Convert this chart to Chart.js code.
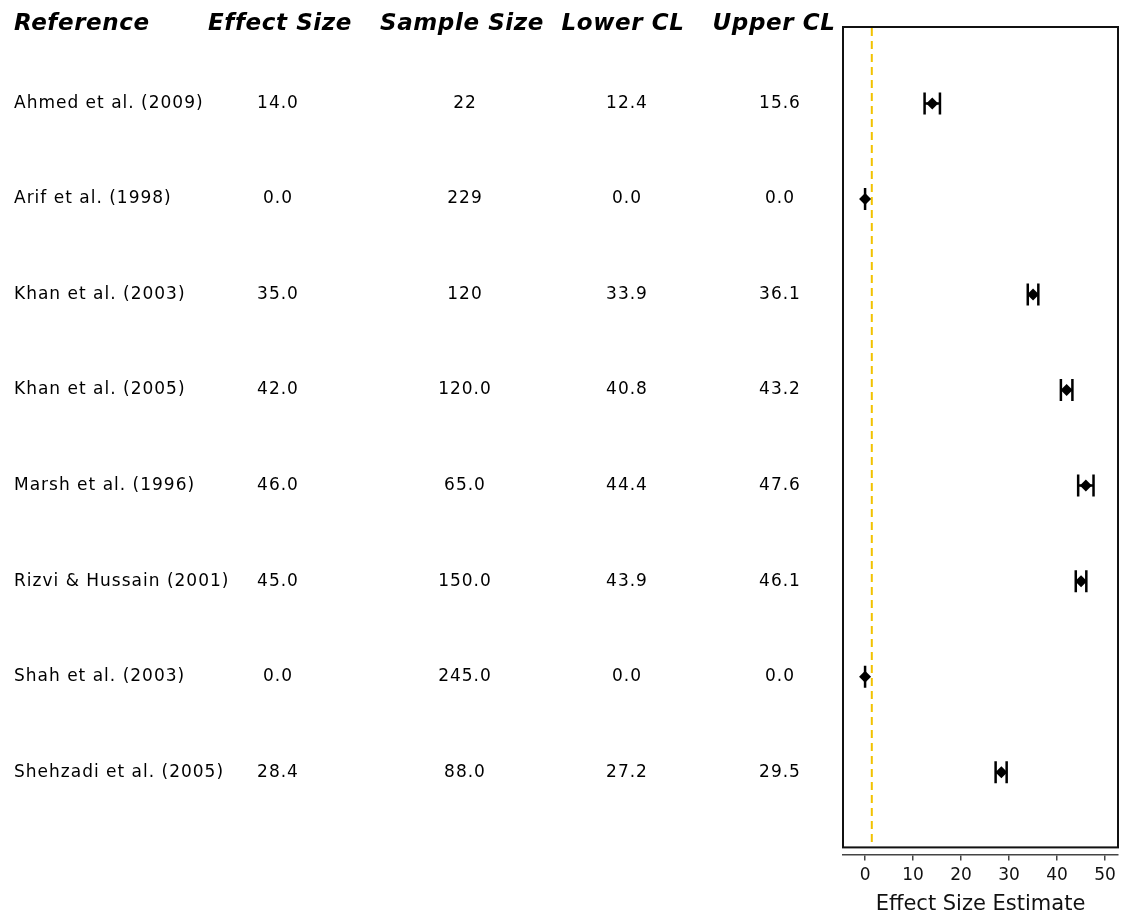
<!DOCTYPE html>
<html>
<head>
<meta charset="utf-8">
<script src="https://cdn.jsdelivr.net/npm/chart.js@4/dist/chart.umd.min.js"></script>
<style>
  html, body { margin: 0; padding: 0; background: #fff; }
  canvas { display: block; }
</style>
</head>
<body>
<canvas id="forest" width="1126" height="917"></canvas>
<script>
const studies = [
    "Ahmed et al. (2009)", "Arif et al. (1998)", "Khan et al. (2003)", "Khan et al. (2005)",
    "Marsh et al. (1996)", "Rizvi & Hussain (2001)", "Shah et al. (2003)", "Shehzadi et al. (2005)"
];
const effectSize = [14.0, 0.0, 35.0, 42.0, 46.0, 45.0, 0.0, 28.4];
const sampleSize = ["22", "229", "120", "120.0", "65.0", "150.0", "245.0", "88.0"];
const lowerCL = [12.4, 0.0, 33.9, 40.8, 44.4, 43.9, 0.0, 27.2];
const upperCL = [15.6, 0.0, 36.1, 43.2, 47.6, 46.1, 0.0, 29.5];
const xTicks = [0, 10, 20, 30, 40, 50];
const refLine = 1.4;

const headers = [
    { text: "Reference", x: 14, align: "left" },
    { text: "Effect Size", x: 280, align: "center" },
    { text: "Sample Size", x: 462, align: "center" },
    { text: "Lower CL", x: 623, align: "center" },
    { text: "Upper CL", x: 774, align: "center" }
];

// box around plot area + dashed reference line + error bars
const forestPlugin = {
    id: 'forest',
    beforeDatasetsDraw(chart) {
        const ctx = chart.ctx;
        const a = chart.chartArea;
        const x = chart.scales.x, y = chart.scales.y;
        const boxBottom = a.bottom - 7;

        ctx.save();
        ctx.strokeStyle = '#111';
        ctx.lineWidth = 2;
        ctx.strokeRect(a.left, a.top, a.right - a.left, boxBottom - a.top);

        ctx.strokeStyle = '#f2c200';
        ctx.lineWidth = 2;
        ctx.setLineDash([8, 5]);
        ctx.beginPath();
        ctx.moveTo(x.getPixelForValue(refLine), a.top + 1);
        ctx.lineTo(x.getPixelForValue(refLine), boxBottom - 1);
        ctx.stroke();
        ctx.setLineDash([]);

        ctx.strokeStyle = '#000';
        ctx.lineWidth = 2.5;
        studies.forEach((s, i) => {
            const py = y.getPixelForValue(i);
            const lo = x.getPixelForValue(lowerCL[i]);
            const hi = x.getPixelForValue(upperCL[i]);
            ctx.beginPath();
            ctx.moveTo(lo, py); ctx.lineTo(hi, py);
            ctx.moveTo(lo, py - 11); ctx.lineTo(lo, py + 11);
            ctx.moveTo(hi, py - 11); ctx.lineTo(hi, py + 11);
            ctx.stroke();
        });
        ctx.restore();
    },
    afterDraw(chart) {
        const ctx = chart.ctx;
        const y = chart.scales.y;
        ctx.save();
        ctx.fillStyle = '#000';
        ctx.textBaseline = 'middle';
        ctx.font = 'italic bold 23px "DejaVu Sans"';
        ctx.letterSpacing = '0.6px';
        headers.forEach(h => {
            ctx.textAlign = h.align;
            ctx.fillText(h.text, h.x, 24);
        });
        ctx.font = '17px "DejaVu Sans"';
        ctx.letterSpacing = '1px';
        studies.forEach((s, i) => {
            const py = y.getPixelForValue(i);
            ctx.textAlign = 'left';
            ctx.fillText(s, 14, py);
            ctx.textAlign = 'center';
            ctx.fillText(effectSize[i].toFixed(1), 278, py);
            ctx.fillText(sampleSize[i], 465, py);
            ctx.fillText(lowerCL[i].toFixed(1), 627, py);
            ctx.fillText(upperCL[i].toFixed(1), 780, py);
        });
        ctx.restore();
    }
};

new Chart(document.getElementById('forest'), {
    type: 'scatter',
    data: {
        datasets: [{
            data: effectSize.map((v, i) => ({ x: v, y: i })),
            pointStyle: 'rectRot',
            pointRadius: 6,
            pointHoverRadius: 6,
            backgroundColor: '#000',
            borderColor: '#000',
            borderWidth: 0
        }]
    },
    options: {
        responsive: false,
        animation: false,
        events: [],
        layout: { padding: { left: 843, right: 8, top: 27, bottom: 0 } },
        plugins: { legend: { display: false }, tooltip: { enabled: false } },
        scales: {
            x: {
                type: 'linear',
                min: -4.6,
                max: 52.7,
                afterBuildTicks(scale) { scale.ticks = xTicks.map(v => ({ value: v })); },
                grid: { display: true, drawOnChartArea: false, drawTicks: true, tickLength: 6, color: '#444', lineWidth: 1.5 },
                border: { display: true, color: '#444', width: 1.5 },
                ticks: { color: '#111', font: { family: 'DejaVu Sans', size: 17 }, padding: 5, maxRotation: 0 },
                title: { display: true, text: 'Effect Size Estimate', color: '#111', font: { family: 'DejaVu Sans', size: 21 }, padding: { top: 1, bottom: 0 } }
            },
            y: {
                type: 'linear',
                display: false,
                reverse: true,
                min: -0.8,
                max: 7.86
            }
        }
    },
    plugins: [forestPlugin]
});
</script>
</body>
</html>
